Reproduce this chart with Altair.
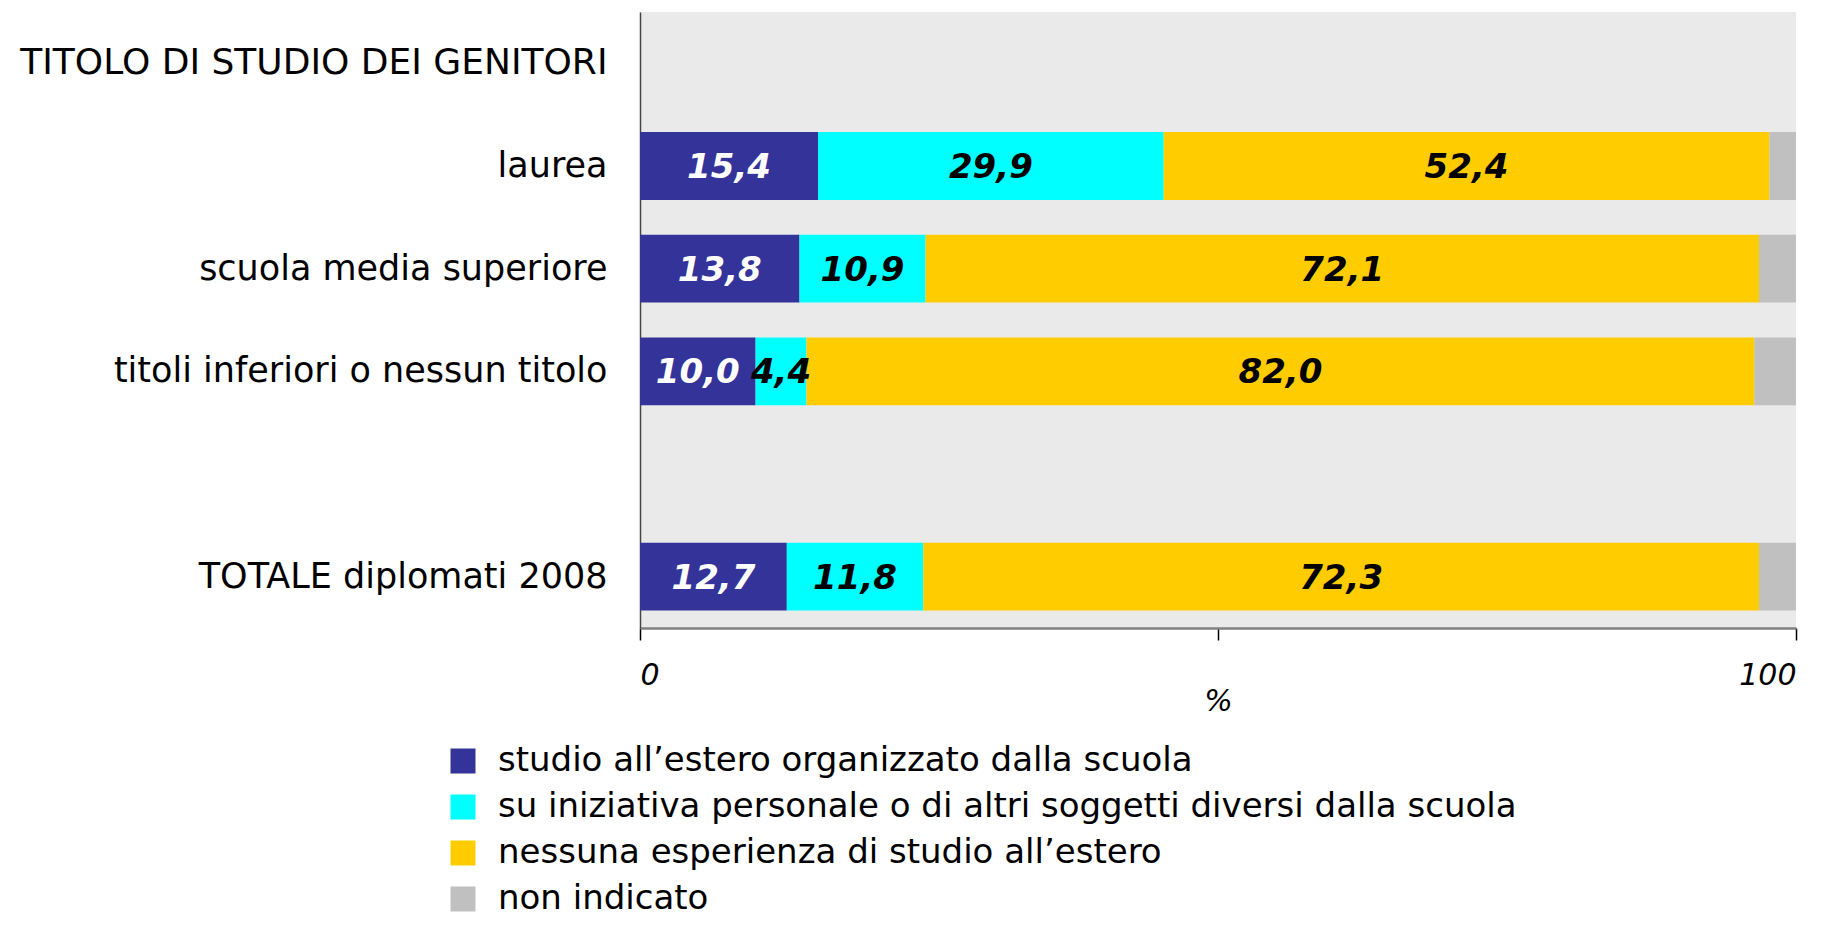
import altair as alt
import pandas as pd

# ---- data ----
categories = ["laurea", "scuola media superiore", "titoli inferiori o nessun titolo", "TOTALE diplomati 2008"]
header_row = "TITOLO DI STUDIO DEI GENITORI"
blank_row = " "
series_names = [
    "studio all\u2019estero organizzato dalla scuola",
    "su iniziativa personale o di altri soggetti diversi dalla scuola",
    "nessuna esperienza di studio all\u2019estero",
    "non indicato",
]
organizzato = [15.4, 13.8, 10.0, 12.7]
personale = [29.9, 10.9, 4.4, 11.8]
nessuna = [52.4, 72.1, 82.0, 72.3]
non_indicato = [2.3, 3.2, 3.6, 3.2]
colors = ["#333399", "#00FFFF", "#FFCC00", "#C0C0C0"]

y_order = [header_row, categories[0], categories[1], categories[2], blank_row, categories[3]]

rows = []
for s_idx, (name, vals) in enumerate(zip(series_names, [organizzato, personale, nessuna, non_indicato])):
    for cat, v in zip(categories, vals):
        rows.append({
            "cat": cat,
            "serie": name,
            "ord": s_idx,
            "value": v,
            "label": "" if s_idx == 3 else f"{v:.1f}".replace(".", ","),
        })
df = pd.DataFrame(rows)

FONT = "DejaVu Sans"

base = alt.Chart(df).transform_stack(
    stack="value", as_=["v0", "v1"], groupby=["cat"], sort=[alt.SortField("ord", order="ascending")]
).transform_calculate(mid="(datum.v0 + datum.v1) / 2")

yscale = alt.Scale(domain=y_order, paddingInner=0.34, paddingOuter=0.17)

y_enc = alt.Y(
    "cat:N",
    scale=yscale,
    axis=alt.Axis(
        title=None, ticks=False,
        labelFontSize={"condition": {"test": "datum.value == 'TITOLO DI STUDIO DEI GENITORI'", "value": 36}, "value": 35},
        labelFont=FONT, labelColor="#000000",
        labelPadding=33, domainColor="#444444", domainWidth=1.5, labelLimit=800,
    ),
)

bars = base.mark_bar().encode(
    x=alt.X(
        "v0:Q",
        scale=alt.Scale(domain=[0, 100], nice=False),
        axis=alt.Axis(
            title="%", values=[0, 50, 100], grid=False,
            labelExpr="datum.value == 50 ? '' : datum.label",
            labelFont=FONT, labelFontSize=30, labelFontStyle="italic", labelColor="#000000",
            labelPadding=20, tickSize=12, tickColor="#000000", tickWidth=1.5,
            domainColor="#808080", domainWidth=2.5,
            titleFont=FONT, titleFontSize=30, titleFontStyle="italic", titleFontWeight="normal",
            titleColor="#000000", titlePadding=-4,
        ),
    ),
    x2="v1:Q",
    y=y_enc,
    color=alt.Color(
        "serie:N",
        scale=alt.Scale(domain=series_names, range=colors),
        legend=alt.Legend(
            title=None, orient="none", legendX=-194, legendY=732,
            symbolType="square", symbolSize=625, symbolStrokeWidth=0, symbolOpacity=1,
            labelFont=FONT, labelFontSize=34, labelColor="#000000", labelLimit=1200,
            labelOffset=18, rowPadding=12,
        ),
    ),
)

texts = base.transform_filter("datum.label != ''").mark_text(
    font=FONT, fontSize=34, fontWeight="bold", fontStyle="italic", align="center", baseline="middle", dy=2
).encode(
    x="mid:Q",
    y=alt.Y("cat:N", scale=yscale),
    text="label:N",
    color=alt.condition("datum.ord == 0", alt.value("#FFFFFF"), alt.value("#000000")),
)

chart = alt.layer(bars, texts).properties(
    width=1156, height=616,
    padding={"left": 632, "top": 4, "right": 27, "bottom": 290},
    autosize=alt.AutoSizeParams(type="none"),
    background="#FFFFFF",
).configure_view(fill="#EAEAEA", strokeWidth=0)

chart.save("out.html", embed_options={"renderer": "svg", "actions": False})
